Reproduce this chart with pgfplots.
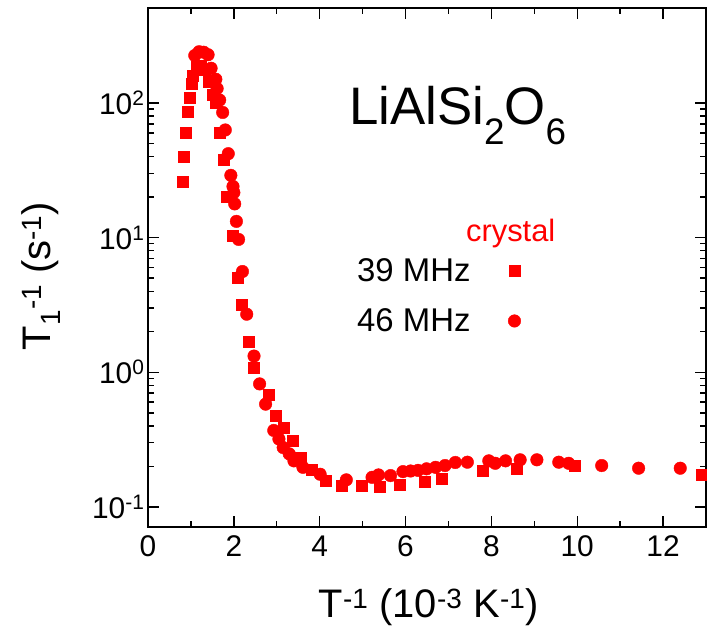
\documentclass[border=0pt]{standalone}
\usepackage{fontspec}
\setmainfont{Liberation Sans}
\usepackage{graphicx}
\usepackage{pgfplots}
\pgfplotsset{compat=1.18}

\begin{document}
\begin{tikzpicture}
\begin{axis}[
  scale only axis, width=558bp, height=519bp,
  xmin=0, xmax=13, ymode=log, ymin=0.071, ymax=507,
  xtick={0,2,4,6,8,10,12}, minor x tick num=1,
  ytick={0.1,1,10,100},
  yticklabels={10\textsuperscript{-1},10\textsuperscript{0},10\textsuperscript{1},10\textsuperscript{2}},
  tick align=inside,
  major tick length=11bp, minor tick length=6bp,
  axis line style={line width=2bp},
  every tick/.style={black, line width=1.4bp},
  tick label style={font=\fontsize{30}{36}\selectfont},
  xticklabel style={yshift=-5bp},
  /pgf/number format/assume math mode=true,
  xlabel={T\textsuperscript{-1} (10\textsuperscript{-3} K\textsuperscript{-1})},
  ylabel={T\textsubscript{1}\textsuperscript{-1} (s\textsuperscript{-1})},
  label style={font=\fontsize{40}{44}\selectfont},
  xlabel style={at={(axis description cs:0.503,-0.1734)}, anchor=base},
  ylabel style={at={(axis description cs:-0.1756,0.4836)}, anchor=base},
  legend style={at={(axis description cs:0.371,0.522)}, anchor=north west,
    draw=none, fill=none, font=\fontsize{33}{38}\selectfont,
    row sep=22bp, inner sep=0pt, nodes={inner sep=2bp}},
  legend cell align=left,
  legend plot pos=right,
  legend image code/.code={\path[draw=none] (0bp,0bp) (48bp,0bp); \draw[#1] plot coordinates {(42bp,0bp)};},
]
\addplot[only marks, mark=square*, mark size=5.5bp, color=red, mark options={fill=red, draw=red}] table {
x y
0.80 26
0.83 40
0.88 60
0.92 86
0.96 110
1.02 140
1.05 160
1.13 186
1.22 190
1.33 176
1.42 144
1.50 116
1.58 100
1.66 60
1.77 38
1.84 20
1.98 10.3
2.08 5.0
2.19 3.2
2.35 1.69
2.47 1.09
2.81 0.68
2.97 0.48
3.17 0.39
3.36 0.31
3.56 0.233
3.82 0.19
4.15 0.156
4.52 0.144
4.97 0.144
5.40 0.142
5.86 0.146
6.44 0.155
6.85 0.163
7.79 0.185
8.58 0.194
9.95 0.203
12.91 0.173
};
\addlegendentry{39 MHz}
\addplot[only marks, mark=*, mark size=6.3bp, color=red, mark options={fill=red, draw=red}] table {
x y
1.09 225
1.19 240
1.30 238
1.40 228
1.47 181
1.58 150
1.61 128
1.67 105
1.74 85
1.80 63
1.87 42
1.93 29
1.98 24
2.00 21.6
2.02 17.8
2.06 13.2
2.11 9.7
2.20 5.6
2.30 2.7
2.47 1.32
2.60 0.82
2.74 0.58
2.93 0.37
3.05 0.32
3.15 0.276
3.29 0.248
3.40 0.22
3.61 0.197
4.01 0.175
4.62 0.159
5.22 0.166
5.37 0.173
5.65 0.171
5.94 0.183
6.12 0.185
6.29 0.187
6.49 0.192
6.70 0.197
6.92 0.203
7.16 0.214
7.44 0.215
7.94 0.220
8.09 0.211
8.33 0.220
8.67 0.224
9.06 0.224
9.57 0.215
9.80 0.211
10.57 0.203
11.43 0.194
12.40 0.194
};
\addlegendentry{46 MHz}
\node[red, anchor=base, font=\fontsize{31}{36}\selectfont] at (axis cs:8.45,9.3) {crystal};
\node[anchor=base west, inner sep=0pt, font=\fontsize{53}{60}\selectfont] at (axis cs:4.68,68.7)
  {LiAlSi\raisebox{-20bp}{\fontsize{37}{40}\selectfont 2}O\raisebox{-20bp}{\fontsize{37}{40}\selectfont 6}};
\end{axis}
\pgfresetboundingbox
\path ([shift={(-148bp,-101bp)}]current axis.south west) rectangle ++(707bp,628bp);
\end{tikzpicture}
\end{document}
